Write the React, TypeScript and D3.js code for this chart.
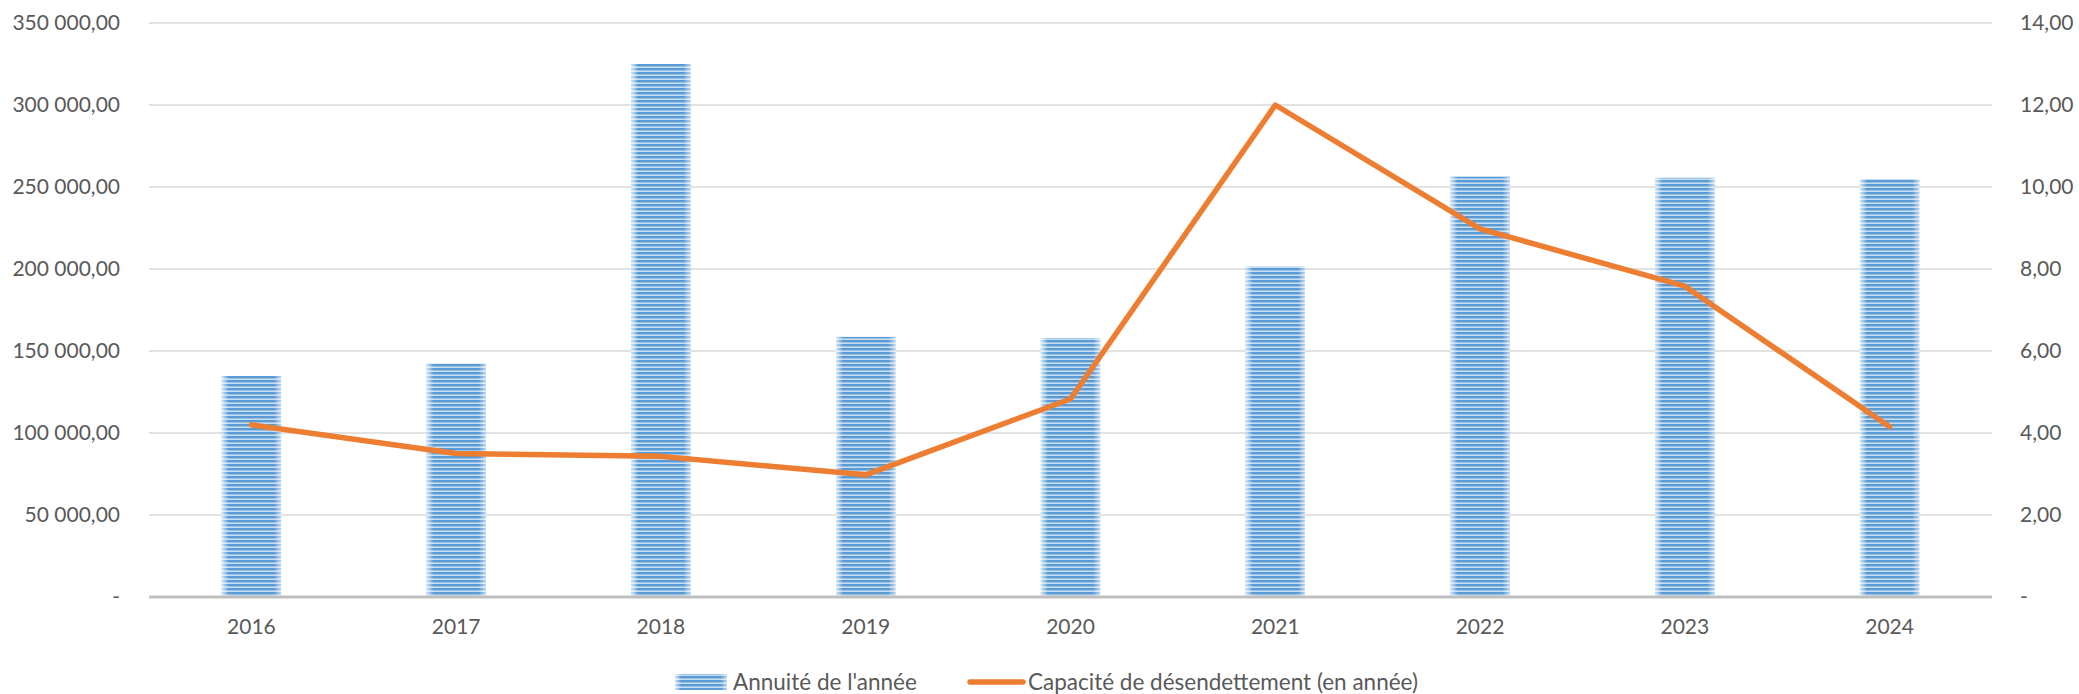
import React from "react";
import * as d3 from "d3";

const years = ["2016", "2017", "2018", "2019", "2020", "2021", "2022", "2023", "2024"];
const annuite = [134800, 142400, 325000, 158600, 157900, 201500, 256300, 255600, 254900];
const capacite = [4.2, 3.5, 3.43, 2.98, 4.83, 12.0, 8.98, 7.58, 4.15];
const leftTicks = [0, 50000, 100000, 150000, 200000, 250000, 300000, 350000];
const rightTicks = [0, 2, 4, 6, 8, 10, 12, 14];
const seriesNames = ["Annuité de l'année", "Capacité de désendettement (en année)"];

const W = 2079;
const H = 694;
const M = { left: 149, right: 2079 - 1992, top: 23, bottom: 694 - 597 };

const fr = d3.formatLocale({ decimal: ",", thousands: " ", grouping: [3], currency: ["", "€"] });
const fmtL = (v: number) => (v === 0 ? "-" : fr.format(",.2f")(v));
const fmtR = (v: number) => (v === 0 ? "-" : fr.format(",.2f")(v));

const FONT = "Lato, 'Open Sans', sans-serif";
const TXT = "#595959";

export default function App() {
  const x = d3.scaleBand<string>().domain(years).range([M.left, W - M.right]).paddingInner(0.71).paddingOuter(0.355);
  const yL = d3.scaleLinear().domain([0, 350000]).range([H - M.bottom, M.top]);
  const yR = d3.scaleLinear().domain([0, 14]).range([H - M.bottom, M.top]);
  const line = d3
    .line<number>()
    .x((_, i) => (x(years[i]) as number) + x.bandwidth() / 2)
    .y((d) => yR(d));

  return (
    <svg width={W} height={H} style={{ position: "absolute", left: 0, top: 0, background: "#fff" }} fontFamily={FONT}>
      <defs>
        <pattern id="stripes" patternUnits="userSpaceOnUse" width="8" height="4">
          <rect width="8" height="4" fill="#C5DCF1" />
          <rect width="8" height="2.4" fill="#5B9BD5" />
        </pattern>
        <linearGradient id="edge" x1="0" x2="1" y1="0" y2="0">
          <stop offset="0" stopColor="#fff" stopOpacity="0.75" />
          <stop offset="0.12" stopColor="#fff" stopOpacity="0" />
          <stop offset="0.88" stopColor="#fff" stopOpacity="0" />
          <stop offset="1" stopColor="#fff" stopOpacity="0.6" />
        </linearGradient>
      </defs>
      {leftTicks.slice(1).map((t) => (
        <line key={t} x1={M.left} x2={W - M.right} y1={yL(t)} y2={yL(t)} stroke="#D9D9D9" strokeWidth={1.5} />
      ))}
      {leftTicks.map((t) => (
        <text key={"l" + t} x={120} y={yL(t)} dy="0.35em" textAnchor="end" fontSize={21} fill={TXT}>
          {fmtL(t)}
        </text>
      ))}
      {rightTicks.map((t) => (
        <text key={"r" + t} x={2020} y={yR(t)} dy="0.35em" textAnchor="start" fontSize={21} fill={TXT}>
          {fmtR(t)}
        </text>
      ))}
      {annuite.map((v, i) => {
        const bx = x(years[i]) as number;
        return (
          <g key={years[i]}>
            <rect x={bx} y={yL(v)} width={x.bandwidth()} height={yL(0) - yL(v)} fill="url(#stripes)" />
            <rect x={bx} y={yL(v)} width={x.bandwidth()} height={yL(0) - yL(v)} fill="url(#edge)" />
          </g>
        );
      })}
      <line x1={M.left} x2={W - M.right} y1={yL(0)} y2={yL(0)} stroke="#BFBFBF" strokeWidth={3} />
      {years.map((yr) => (
        <text key={yr} x={(x(yr) as number) + x.bandwidth() / 2} y={627} dy="0.35em" textAnchor="middle" fontSize={21} fill={TXT}>
          {yr}
        </text>
      ))}
      <path d={line(capacite) || ""} fill="none" stroke="#ED7D31" strokeWidth={5.5} strokeLinejoin="round" strokeLinecap="round" />
      <g>
        <rect x={675} y={674} width={52} height={16} fill="url(#stripes)" />
        <rect x={675} y={674} width={52} height={16} fill="url(#edge)" />
        <text x={733} y={682} dy="0.35em" fontSize={22.5} fill={TXT}>
          {seriesNames[0]}
        </text>
        <line x1={970} x2={1023} y1={682} y2={682} stroke="#ED7D31" strokeWidth={5.5} strokeLinecap="round" />
        <text x={1028} y={682} dy="0.35em" fontSize={22.5} fill={TXT}>
          {seriesNames[1]}
        </text>
      </g>
    </svg>
  );
}
